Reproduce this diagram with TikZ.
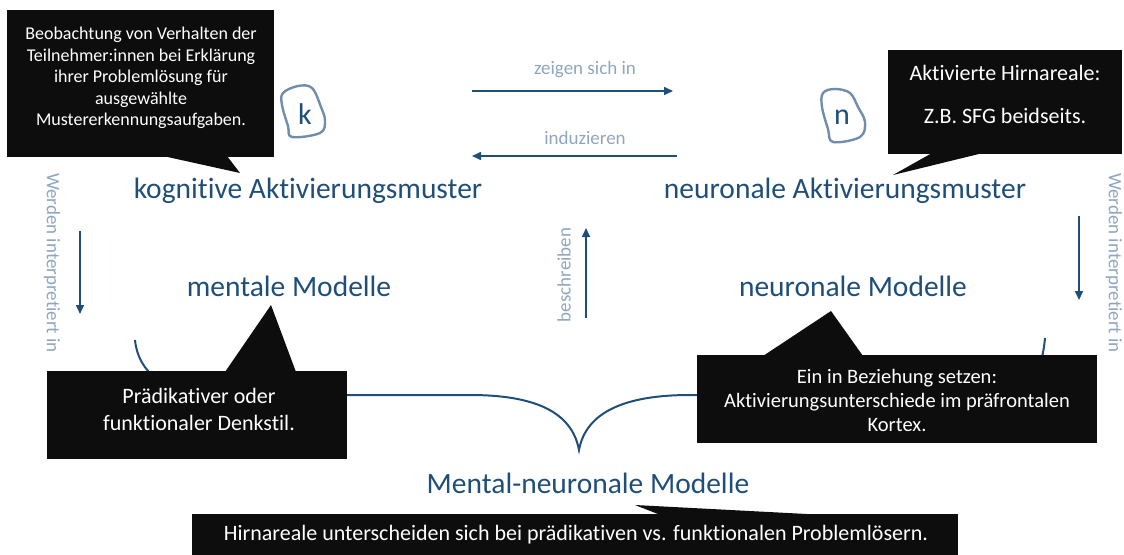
\documentclass[tikz,border=0pt]{standalone}
\usepackage{fontspec}
\setmainfont{Carlito}[Ligatures={NoCommon}]
\usetikzlibrary{arrows.meta}
\definecolor{dblue}{RGB}{31,78,121}
\definecolor{lblue}{RGB}{143,166,191}
\definecolor{blobc}{RGB}{112,142,172}
\definecolor{cbox}{RGB}{13,13,13}
\begin{document}
\begin{tikzpicture}[x=1pt,y=-1pt,
  big/.style={text=dblue,font=\fontsize{29.5}{33}\selectfont,inner sep=0,anchor=base},
  lab/.style={text=lblue,font=\fontsize{19}{22}\selectfont,inner sep=0},
  arr/.style={draw=dblue,line width=1.6pt,-{Triangle[length=9pt,width=8pt]}},
  callbox/.style={fill=cbox,draw=none,inner sep=0},
  ctext/.style={text=white,align=center,inner sep=0},
  blobline/.style={draw=blobc,line width=2.4pt,line join=round},
  bracel/.style={draw=dblue,line width=2pt}
]
\useasboundingbox (0,0) rectangle (1124,554);

% brace (behind the callouts)
\coordinate (bl) at (135,340);
\coordinate (bt) at (579,450);
\coordinate (br) at (1045,338);
\draw[bracel] (bl) .. controls (138,372) and (165,395) .. (215,395) -- (470,395)
  .. controls (535,395) and (572,412) .. (bt)
  .. controls (586,412) and (625,395) .. (690,395) -- (990,395)
  .. controls (1030,395) and (1042,372) .. (br);

% main texts
\node[big] (ka) at (308,198) {kognitive Aktivierungsmuster};
\node[big] (na) at (845,198) {neuronale Aktivierungsmuster};
\node[big] (mm) at (289,296) {mentale Modelle};
\node[big] (nm) at (853,296) {neuronale Modelle};
\node[big] (mn) at (588,493) {Mental-neuronale Modelle};

% horizontal arrows
\coordinate (a1s) at (472,91); \coordinate (a1e) at (673,91);
\coordinate (a2s) at (677,156); \coordinate (a2e) at (472,156);
\draw[arr] (a1s) -- (a1e);
\draw[arr] (a2s) -- (a2e);
\node[lab,anchor=base] (zs) at (585,74) {zeigen sich in};
\node[lab,anchor=base] (ind) at (585,144) {induzieren};

% vertical arrows
\coordinate (l1s) at (80,231); \coordinate (l1e) at (80,314);
\coordinate (r1s) at (1079,216); \coordinate (r1e) at (1079,300);
\coordinate (u1s) at (586,318); \coordinate (u1e) at (586,228);
\draw[arr] (l1s) -- (l1e);
\draw[arr] (r1s) -- (r1e);
\draw[arr] (u1s) -- (u1e);
\node[lab,rotate=-90] (wl) at (52,263) {Werden interpretiert in};
\node[lab,rotate=-90] (wr) at (1114,263) {Werden interpretiert in};
\node[lab,rotate=90] (be) at (564,275) {beschreiben};

% blobs
\draw[blobline] plot[smooth cycle,tension=0.6] coordinates
  {(283,93) (298,86) (312,88) (321,107) (325,121) (320,133) (292,137) (288,126) (282,105)};
\node[text=dblue,font=\fontsize{30}{32}\selectfont,inner sep=0] (k) at (305,114) {k};
\draw[blobline] plot[smooth cycle,tension=0.6] coordinates
  {(823,93) (835,89) (850,93) (858,107) (865,122) (860,137) (833,142) (828,129) (822,107)};
\node[text=dblue,font=\fontsize{30}{32}\selectfont,inner sep=0] (n) at (842,117) {n};

% callout 1
\node[callbox,minimum width=267pt,minimum height=147pt] (c1) at (140.5,83.5) {};
\fill[cbox] (163,156) -- (240,173) -- (227,156) -- cycle;
\node[ctext,font=\fontsize{18}{21.5}\selectfont] (t1) at (141,78)
  {Beobachtung von Verhalten der\\Teilnehmer:innen bei Erklärung\\ihrer Problemlösung für\\ausgewählte\\Mustererkennungsaufgaben.};

% callout 2
\node[callbox,minimum width=234pt,minimum height=104pt] (c2) at (1005,102) {};
\fill[cbox] (932,153) -- (893,175) -- (983,153) -- cycle;
\node[ctext,font=\fontsize{22}{43}\selectfont] (t2) at (1005,94)
  {Aktivierte Hirnareale:\\Z.B. SFG beidseits.};

% callout 3
\node[callbox,minimum width=300pt,minimum height=88pt] (c3) at (197,415) {};
\fill[cbox] (225,372) -- (271,305) -- (296,372) -- cycle;
\node[ctext,font=\fontsize{22}{27}\selectfont] (t3) at (199,409)
  {Prädikativer oder\\funktionaler Denkstil.};

% callout 4
\node[callbox,minimum width=400pt,minimum height=88pt] (c4) at (897,399) {};
\fill[cbox] (763,356) -- (831,311) -- (863,356) -- cycle;
\node[ctext,font=\fontsize{20.5}{24}\selectfont] (t4) at (897,400)
  {Ein in Beziehung setzen:\\Aktivierungsunterschiede im präfrontalen\\Kortex.};

% callout 5
\node[callbox,minimum width=766pt,minimum height=42pt] (c5) at (575,535) {};
\fill[cbox] (663,516) -- (635,505) -- (845,516) -- cycle;
\node[ctext,font=\fontsize{22}{24}\selectfont] (t5) at (576,535)
  {Hirnareale unterscheiden sich bei prädikativen vs. funktionalen Problemlösern.};
\end{tikzpicture}
\end{document}
